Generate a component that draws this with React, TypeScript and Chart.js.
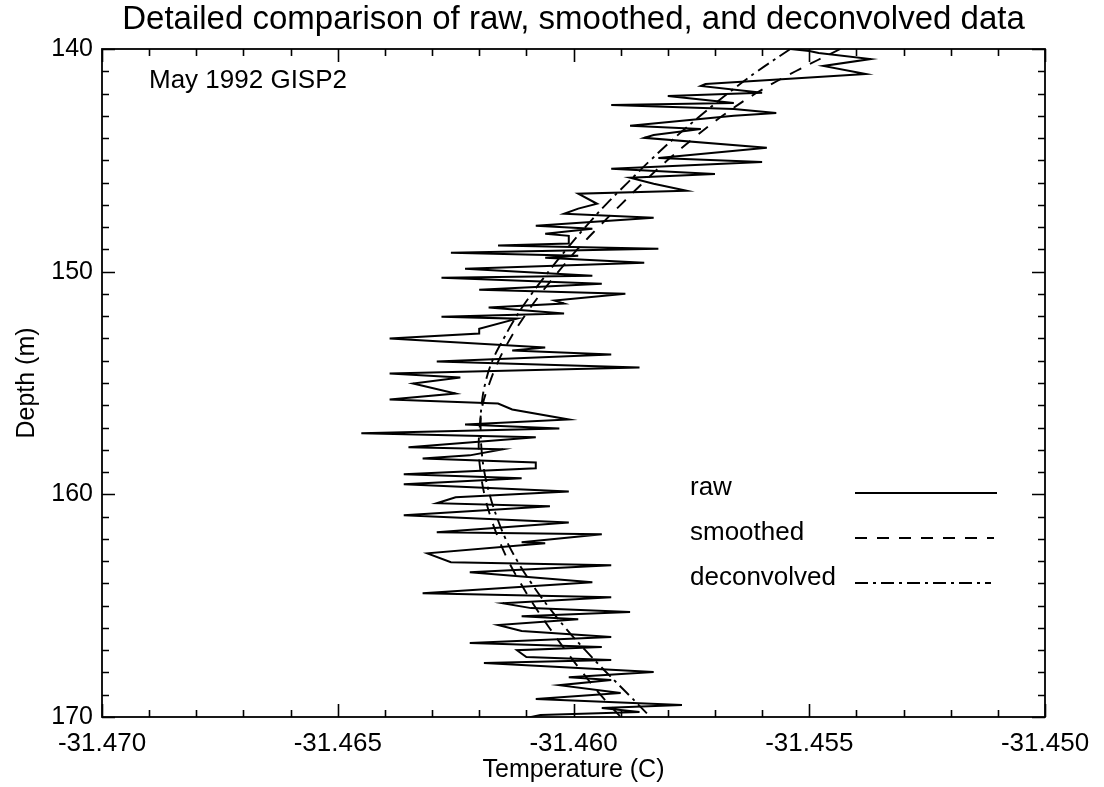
import React, { useEffect, useRef } from "react";
import { Chart, registerables } from "chart.js";

Chart.register(...registerables);

const FONT = '"Liberation Sans", Arial, Helvetica, sans-serif';

const TITLE = "Detailed comparison of raw, smoothed, and deconvolved data";
const ANNOTATION = "May 1992 GISP2";
const X_TITLE = "Temperature (C)";
const Y_TITLE = "Depth (m)";

const xTickValues = [-31.47, -31.465, -31.46, -31.455, -31.45];
const yTickValues = [140, 150, 160, 170];
const X_MIN = -31.47;
const X_MAX = -31.45;
const Y_MIN = 140;
const Y_MAX = 170;
const X_MINOR_STEP = 0.001;
const Y_MINOR_STEP = 1;

const rawDepth = [
  140.0, 140.09, 140.18, 140.45, 140.76, 141.12, 141.57, 141.66, 141.97, 142.11,
  142.42, 142.51, 142.69, 142.87, 143.0, 143.45, 143.59, 143.86, 143.99, 144.44,
  144.89, 145.07, 145.38, 145.61, 145.78, 146.05, 146.37, 146.5, 146.95, 147.17,
  147.4, 147.58, 147.94, 148.07, 148.3, 148.39, 148.74, 148.83, 148.97, 149.15,
  149.28, 149.37, 149.6, 149.87, 150.18, 150.27, 150.54, 150.81, 150.99, 151.3,
  151.43, 151.61, 151.88, 152.02, 152.11, 152.56, 152.78, 153.0, 153.41, 153.54,
  153.72, 154.04, 154.3, 154.57, 154.75, 155.02, 155.47, 155.74, 155.92, 156.19,
  156.64, 156.86, 157.04, 157.26, 157.44, 157.89, 157.98, 158.25, 158.39, 158.57,
  158.83, 159.1, 159.28, 159.55, 159.87, 160.13, 160.4, 160.54, 160.94, 161.26,
  161.7, 161.79, 162.15, 162.2, 162.65, 163.05, 163.18, 163.5, 163.95, 164.44,
  164.62, 164.89, 165.11, 165.29, 165.47, 165.61, 165.87, 166.14, 166.41, 166.68,
  166.86, 167.0, 167.31, 167.44, 167.58, 167.98, 168.21, 168.34, 168.57, 168.92,
  169.19, 169.46, 169.6, 169.78, 169.91, 170.09,
];

const rawTemp = [
  -31.4554, -31.455, -31.4548, -31.4537, -31.4547, -31.4538, -31.4572, -31.4573, -31.456, -31.458,
  -31.4566, -31.4592, -31.4566, -31.4557, -31.4566, -31.4588, -31.4573, -31.4583, -31.4585, -31.4559,
  -31.4582, -31.456, -31.4592, -31.457, -31.4588, -31.4583, -31.4576, -31.4599, -31.4595, -31.4599,
  -31.4602, -31.4583, -31.4608, -31.4596, -31.4606, -31.4601, -31.4601, -31.4616, -31.4582, -31.4626,
  -31.4599, -31.4606, -31.4585, -31.4623, -31.4596, -31.4628, -31.4594, -31.462, -31.4589, -31.4604,
  -31.4602, -31.4618, -31.4602, -31.4628, -31.4612, -31.462, -31.462, -31.4639, -31.4606, -31.4613,
  -31.4592, -31.4629, -31.4586, -31.4639, -31.4624, -31.4634, -31.4625, -31.4639, -31.4616, -31.4613,
  -31.4601, -31.4623, -31.4603, -31.4645, -31.4608, -31.4635, -31.4615, -31.4622, -31.4632, -31.4608,
  -31.4608, -31.4636, -31.4611, -31.4636, -31.4601, -31.4625, -31.4629, -31.4605, -31.4636, -31.4601,
  -31.4629, -31.4594, -31.4611, -31.4606, -31.4631, -31.4626, -31.4592, -31.4622, -31.4596, -31.4632,
  -31.4592, -31.4615, -31.4609, -31.4588, -31.4611, -31.4599, -31.4616, -31.4611, -31.4592, -31.4622,
  -31.4594, -31.4612, -31.461, -31.4592, -31.4619, -31.4583, -31.4601, -31.4592, -31.4603, -31.459,
  -31.4608, -31.4577, -31.4594, -31.4586, -31.4607, -31.4611,
];

const smoothDepth = [
  140, 141, 142, 143, 144, 145, 146, 147, 148, 149, 150, 151, 152, 153, 154, 155,
  156, 157, 158, 159, 160, 161, 162, 163, 164, 165, 166, 167, 168, 169, 170,
];

const smoothedTemp = [
  -31.45434, -31.45529, -31.45614, -31.45684, -31.45745, -31.45801, -31.45852, -31.459,
  -31.45947, -31.45992, -31.46032, -31.4607, -31.46104, -31.46134, -31.46159, -31.46178,
  -31.46193, -31.46199, -31.46201, -31.46197, -31.46189, -31.46176, -31.46159, -31.46138,
  -31.46112, -31.46083, -31.46051, -31.46017, -31.45981, -31.45943, -31.459,
];

const deconvolvedTemp = [
  -31.4554, -31.4561, -31.45673, -31.45731, -31.45786, -31.45837, -31.45885, -31.45932,
  -31.45975, -31.46015, -31.46053, -31.46089, -31.46121, -31.46148, -31.46172, -31.46187,
  -31.46195, -31.46197, -31.46195, -31.46189, -31.46178, -31.46163, -31.46144, -31.46119,
  -31.46089, -31.46055, -31.46017, -31.45975, -31.4593, -31.45883, -31.45837,
];

const seriesLabels = ["raw", "smoothed", "deconvolved"];
const seriesDash: number[][] = [[], [12, 10], [13, 5, 3, 5]];

const decorPlugin = {
  id: "decor",
  beforeDraw(chart: any) {
    const ctx = chart.ctx;
    ctx.save();
    ctx.fillStyle = "#ffffff";
    ctx.fillRect(0, 0, chart.width, chart.height);
    ctx.restore();
  },
  afterDatasetsDraw(chart: any) {
    const { ctx, chartArea } = chart;
    const { left, right, top, bottom } = chartArea;
    const xs = chart.scales.x;
    const ys = chart.scales.y;
    ctx.save();
    ctx.strokeStyle = "#000";
    ctx.lineWidth = 1.8;
    ctx.setLineDash([]);
    ctx.strokeRect(left, top, right - left, bottom - top);

    const nX = Math.round((X_MAX - X_MIN) / X_MINOR_STEP);
    ctx.beginPath();
    for (let i = 0; i <= nX; i++) {
      const v = X_MIN + i * X_MINOR_STEP;
      const px = Math.round(xs.getPixelForValue(v)) + 0.5;
      const len = i % 5 === 0 ? 13 : 7;
      ctx.moveTo(px, bottom);
      ctx.lineTo(px, bottom - len);
      ctx.moveTo(px, top);
      ctx.lineTo(px, top + len);
    }
    const nY = Math.round((Y_MAX - Y_MIN) / Y_MINOR_STEP);
    for (let i = 0; i <= nY; i++) {
      const v = Y_MIN + i * Y_MINOR_STEP;
      const py = Math.round(ys.getPixelForValue(v)) + 0.5;
      const len = i % 10 === 0 ? 13 : 7;
      ctx.moveTo(left, py);
      ctx.lineTo(left + len, py);
      ctx.moveTo(right, py);
      ctx.lineTo(right - len, py);
    }
    ctx.lineWidth = 1.6;
    ctx.stroke();

    ctx.fillStyle = "#000";
    ctx.font = `33px ${FONT}`;
    ctx.textAlign = "center";
    ctx.textBaseline = "alphabetic";
    ctx.fillText(TITLE, (left + right) / 2, 29);

    ctx.font = `26px ${FONT}`;
    ctx.textAlign = "left";
    ctx.fillText(ANNOTATION, 149, 88);

    const baselines = [495, 540, 585];
    const lineEnds = [997, 994, 991];
    chart.data.datasets.forEach((ds: any, i: number) => {
      ctx.fillText(ds.label, 690, baselines[i]);
      ctx.beginPath();
      ctx.setLineDash(ds.borderDash || []);
      ctx.lineWidth = 1.9;
      ctx.moveTo(855, baselines[i] - 2);
      ctx.lineTo(lineEnds[i], baselines[i] - 2);
      ctx.stroke();
    });
    ctx.restore();
  },
};

export default function App() {
  const canvasRef = useRef<HTMLCanvasElement | null>(null);

  useEffect(() => {
    if (!canvasRef.current) return;
    const rawPts = rawDepth.map((d, i) => ({ x: rawTemp[i], y: d }));
    const smPts = smoothDepth.map((d, i) => ({ x: smoothedTemp[i], y: d }));
    const dcPts = smoothDepth.map((d, i) => ({ x: deconvolvedTemp[i], y: d }));

    const chart = new Chart(canvasRef.current, {
      type: "scatter",
      data: {
        datasets: [
          {
            label: seriesLabels[0],
            data: rawPts,
            showLine: true,
            borderColor: "#000",
            borderWidth: 2,
            pointRadius: 0,
            tension: 0,
            borderDash: seriesDash[0],
          },
          {
            label: seriesLabels[1],
            data: smPts,
            showLine: true,
            borderColor: "#000",
            borderWidth: 1.9,
            pointRadius: 0,
            tension: 0.4,
            borderDash: seriesDash[1],
          },
          {
            label: seriesLabels[2],
            data: dcPts,
            showLine: true,
            borderColor: "#000",
            borderWidth: 1.9,
            pointRadius: 0,
            tension: 0.4,
            borderDash: seriesDash[2],
          },
        ],
      },
      options: {
        animation: false,
        responsive: false,
        devicePixelRatio: 1,
        layout: { padding: { left: 0, right: 59, top: 49, bottom: 0 } },
        plugins: {
          legend: { display: false },
          title: { display: false },
          tooltip: { enabled: false },
        },
        scales: {
          x: {
            type: "linear",
            min: X_MIN,
            max: X_MAX,
            grid: { display: false, drawTicks: false },
            border: { display: false },
            afterBuildTicks: (scale: any) => {
              scale.ticks = xTickValues.map((v) => ({ value: v }));
            },
            afterFit: (scale: any) => {
              scale.height = 70;
            },
            ticks: {
              color: "#000",
              font: { family: FONT, size: 26 },
              padding: 11,
              maxRotation: 0,
              autoSkip: false,
              callback: (v: any) => Number(v).toFixed(3),
            },
            title: {
              display: true,
              text: X_TITLE,
              color: "#000",
              font: { family: FONT, size: 25 },
              padding: { top: 0, bottom: 2 },
            },
          },
          y: {
            type: "linear",
            reverse: true,
            min: Y_MIN,
            max: Y_MAX,
            grid: { display: false, drawTicks: false },
            border: { display: false },
            afterBuildTicks: (scale: any) => {
              scale.ticks = yTickValues.map((v) => ({ value: v }));
            },
            afterFit: (scale: any) => {
              scale.width = 102;
            },
            ticks: {
              color: "#000",
              font: { family: FONT, size: 25 },
              padding: 9,
              autoSkip: false,
              callback: (v: any) => String(v),
            },
            title: {
              display: true,
              text: Y_TITLE,
              color: "#000",
              font: { family: FONT, size: 25 },
              padding: { top: 12, bottom: 0 },
            },
          },
        },
      },
      plugins: [decorPlugin],
    });
    return () => chart.destroy();
  }, []);

  return (
    <div style={{ position: "fixed", left: 0, top: 0, width: 1104, height: 787, background: "#fff" }}>
      <canvas ref={canvasRef} width={1104} height={787} style={{ width: 1104, height: 787, display: "block" }} />
    </div>
  );
}
